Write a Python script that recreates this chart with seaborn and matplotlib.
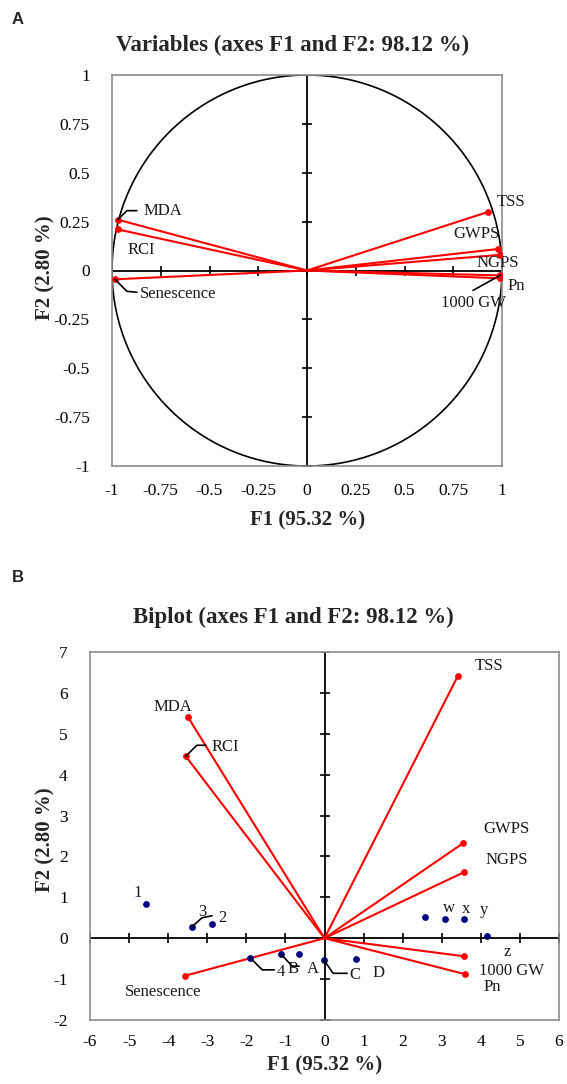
import numpy as np
import pandas as pd
import matplotlib
matplotlib.use("Agg")
import matplotlib.pyplot as plt
import seaborn as sns
from matplotlib.lines import Line2D

# ---------------- data ----------------
variables = ["TSS", "GWPS", "NGPS", "1000 GW", "Pn", "MDA", "RCI", "Senescence"]
f1_corr = [0.93, 0.98, 0.99, 0.99, 0.99, -0.97, -0.97, -0.985]
f2_corr = [0.30, 0.11, 0.08, -0.025, -0.04, 0.26, 0.21, -0.045]
f1_bi = [3.41, 3.54, 3.56, 3.56, 3.60, -3.50, -3.55, -3.58]
f2_bi = [6.41, 2.32, 1.61, -0.44, -0.88, 5.42, 4.45, -0.92]
obs = ["1", "2", "3", "4", "A", "B", "C", "D", "w", "x", "y", "z"]
obs_f1 = [-4.56, -2.87, -3.39, -1.90, -0.64, -1.11, -0.01, 0.81, 2.57, 3.09, 3.56, 4.15]
obs_f2 = [0.84, 0.36, 0.28, -0.48, -0.39, -0.39, -0.54, -0.51, 0.51, 0.47, 0.47, 0.05]
ticks_a = [-1, -0.75, -0.5, -0.25, 0, 0.25, 0.5, 0.75, 1]
ticks_bx = list(range(-6, 7))
ticks_by = list(range(-2, 8))

# ---------------- style ----------------
sns.set_style("white")
plt.rcParams["font.family"] = ["Liberation Serif", "DejaVu Serif"]
RED = "#ff0000"
NAVY = "#000080"
GREY = "#8c8c8c"

W, H = 567, 1084
fig = plt.figure(figsize=(W / 100, H / 100), dpi=100)

def fx(px):
    return px / W

def fy(py):
    return 1 - py / H

# label placement (pixel offsets from point, y up): (dx, dy, ha, leader)
lab_a = {
    "TSS": (23, 10, "center", None),
    "GWPS": (-22, 15, "center", None),
    "NGPS": (-2, -8, "center", None),
    "1000 GW": (-27, -28, "center", [(0, 0), (-27, -15)]),
    "Pn": (16, -8, "center", None),
    "MDA": (26, 9, "left", [(0, 0), (9, 9), (19, 9)]),
    "RCI": (23, -21, "center", None),
    "Senescence": (25, -15, "left", [(0, 0), (12, -12), (22, -13)]),
}
lab_b = {
    "TSS": (31, 10, "center", None),
    "GWPS": (44, 14, "center", None),
    "NGPS": (43, 12, "center", None),
    "1000 GW": (48, -15, "center", None),
    "Pn": (27, -13, "center", None),
    "MDA": (-15, 10, "center", None),
    "RCI": (26, 9, "left", [(0, 0), (11, 11), (20, 11)]),
    "Senescence": (-21, -16, "center", None),
}
lab_obs = {
    "1": (-9, 11, "center", None),
    "2": (10, 6, "center", None),
    "3": (10, 15, "center", [(0, 0), (10, 9), (20, 11)]),
    "4": (26, -14, "left", [(0, 0), (12, -12), (24, -12)]),
    "A": (13, -15, "center", None),
    "B": (12, -15, "center", [(0, 0), (11, -12), (18, -12)]),
    "C": (31, -15, "center", [(0, 0), (9, -13), (23, -13)]),
    "D": (22, -14, "center", None),
    "w": (24, 9, "center", None),
    "x": (21, 10, "center", None),
    "y": (20, 9, "center", None),
    "z": (21, -16, "center", None),
}


def place_labels(ax, names, xs, ys, spec, fs=12):
    for n, x, y in zip(names, xs, ys):
        dx, dy, ha, leader = spec[n]
        ax.annotate(n, (x, y), xytext=(dx, dy), textcoords="offset pixels",
                    ha=ha, va="center", fontsize=fs, color="#1a1a1a")
        if leader:
            p = ax.transData.transform((x, y))
            xs_ = [p[0] + a for a, b in leader]
            ys_ = [p[1] + b for a, b in leader]
            fig.add_artist(Line2D(xs_, ys_, transform=None, color="black", lw=1.2))


def center_axes(ax, xt, yt, xlim, ylim, xpad):
    ax.axhline(0, color="black", lw=1.3, zorder=1)
    ax.axvline(0, color="black", lw=1.3, zorder=1)
    ax.plot(xt, np.zeros(len(xt)), ls="none", marker="|", ms=7.5, mew=1.2, color="black", zorder=1)
    ax.plot(np.zeros(len(yt)), yt, ls="none", marker="_", ms=7.5, mew=1.2, color="black", zorder=1)
    ax.set_xlim(xlim)
    ax.set_ylim(ylim)
    ax.set_xticks(xt)
    ax.set_yticks(yt)
    ax.set_xticklabels([f"{t:g}" for t in xt])
    ax.set_yticklabels([f"{t:g}" for t in yt])
    ax.tick_params(length=0, labelsize=12.5, colors="black")
    ax.tick_params(axis="x", pad=xpad)
    ax.tick_params(axis="y", pad=16)
    for s in ax.spines.values():
        s.set_color(GREY)
        s.set_linewidth(1.2)
        s.set_visible(True)
    ax.set_xlabel("")
    ax.set_ylabel("")


# ---------------- Panel A ----------------
axA = fig.add_axes([fx(112), fy(466), fx(502) - fx(112), fy(75) - fy(466)])
theta = np.linspace(0, 2 * np.pi, 400)
axA.plot(np.cos(theta), np.sin(theta), color="black", lw=1.2, zorder=2)
center_axes(axA, ticks_a, ticks_a, (-1, 1), (-1, 1), 12)
for x, y in zip(f1_corr, f2_corr):
    axA.plot([0, x], [0, y], color=RED, lw=1.5, zorder=3)
dfa = pd.DataFrame({"F1": f1_corr, "F2": f2_corr, "var": variables})
sns.scatterplot(data=dfa, x="F1", y="F2", ax=axA, color=RED, s=24, edgecolor=RED, linewidth=0, zorder=4)
axA.set_xlabel("")
axA.set_ylabel("")
place_labels(axA, variables, f1_corr, f2_corr, lab_a)

# ---------------- Panel B ----------------
axB = fig.add_axes([fx(90), fy(1020), fx(559) - fx(90), fy(652) - fy(1020)])
center_axes(axB, ticks_bx, ticks_by, (-6, 6), (-2, 7), 10)
for x, y in zip(f1_bi, f2_bi):
    axB.plot([0, x], [0, y], color=RED, lw=1.5, zorder=3)
dfb = pd.DataFrame({"F1": f1_bi, "F2": f2_bi, "var": variables})
sns.scatterplot(data=dfb, x="F1", y="F2", ax=axB, color=RED, s=24, edgecolor=RED, linewidth=0, zorder=4)
dfo = pd.DataFrame({"F1": obs_f1, "F2": obs_f2, "obs": obs})
sns.scatterplot(data=dfo, x="F1", y="F2", ax=axB, color=NAVY, s=24, edgecolor=NAVY, linewidth=0, zorder=4)
axB.set_xlabel("")
axB.set_ylabel("")
place_labels(axB, variables, f1_bi, f2_bi, lab_b)
place_labels(axB, obs, obs_f1, obs_f2, lab_obs)

# ---------------- texts ----------------
fig.text(fx(18), fy(19), "A", family=["Liberation Sans", "DejaVu Sans"], weight="bold", fontsize=12, ha="center", va="center")
fig.text(fx(18), fy(578), "B", family=["Liberation Sans", "DejaVu Sans"], weight="bold", fontsize=12, ha="center", va="center")
fig.text(fx(293), fy(45), "Variables (axes F1 and F2: 98.12 %)", weight="bold", fontsize=16.5, ha="center", va="center")
fig.text(fx(293), fy(617), "Biplot (axes F1 and F2: 98.12 %)", weight="bold", fontsize=16.5, ha="center", va="center")
fig.text(fx(308), fy(520), "F1 (95.32 %)", weight="bold", fontsize=15, ha="center", va="center")
fig.text(fx(325), fy(1065), "F1 (95.32 %)", weight="bold", fontsize=15, ha="center", va="center")
fig.text(fx(45), fy(268), "F2 (2.80 %)", weight="bold", fontsize=15, ha="center", va="center", rotation=90)
fig.text(fx(45), fy(840), "F2 (2.80 %)", weight="bold", fontsize=15, ha="center", va="center", rotation=90)

fig.savefig("out.png", dpi=100)
